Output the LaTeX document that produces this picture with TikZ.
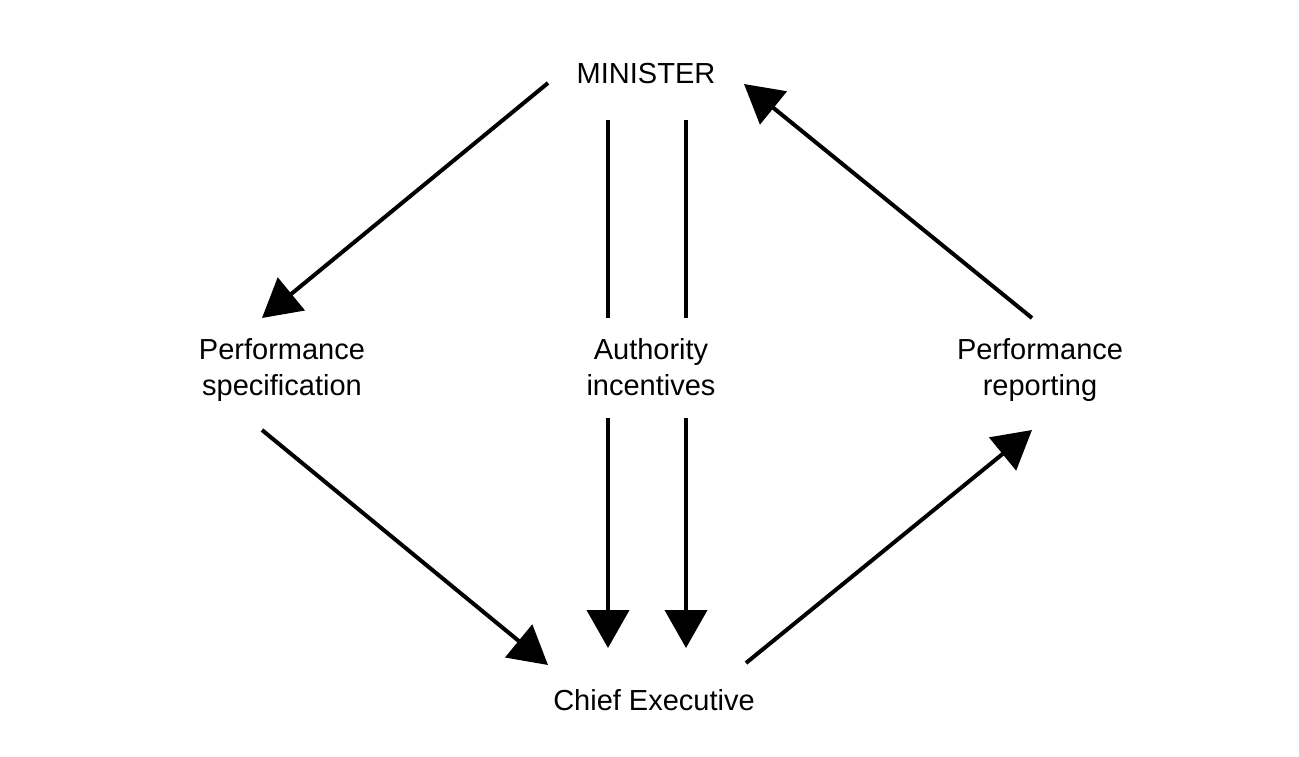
\documentclass[tikz,border=0pt]{standalone}
\usepackage{fontspec}
\setmainfont{Liberation Sans}
\usetikzlibrary{arrows.meta,calc}
\begin{document}
\begin{tikzpicture}[x=1pt,y=-1pt,
  lbl/.style={align=center,font=\fontsize{29}{36}\selectfont,inner sep=0pt},
  conn/.style={line width=4pt},
  arr/.style={conn,-{Triangle[length=38pt,width=42pt]}}]
\useasboundingbox (0,0) rectangle (1299,756);
\node[lbl] (min) at (646,74) {MINISTER};
\node[lbl] (spec) at (282,370) {Performance\\specification};
\node[lbl] (auth) at (651,367) {Authority\\incentives};
\node[lbl] (rep) at (1040,370) {Performance\\reporting};
\node[lbl] (ce) at (654,700) {Chief Executive};
% endpoints relative to nodes
\coordinate (m1) at ($(min)+(-98,9)$);
\coordinate (m2) at ($(min)+(-38,46)$);
\coordinate (m3) at ($(min)+(40,46)$);
\coordinate (m4) at ($(min)+(98,10)$);
\coordinate (s1) at ($(spec)+(-20,-52)$);
\coordinate (s2) at ($(spec)+(-20,60)$);
\coordinate (a1) at ($(auth)+(-43,-49)$);
\coordinate (a2) at ($(auth)+(35,-49)$);
\coordinate (a3) at ($(auth)+(-43,51)$);
\coordinate (a4) at ($(auth)+(35,51)$);
\coordinate (r1) at ($(rep)+(-8,-52)$);
\coordinate (r2) at ($(rep)+(-8,60)$);
\coordinate (c1) at ($(ce)+(-106,-35)$);
\coordinate (c2) at ($(ce)+(-46,-52)$);
\coordinate (c3) at ($(ce)+(32,-52)$);
\coordinate (c4) at ($(ce)+(92,-37)$);
\draw[arr] (m1) -- (s1);
\draw[conn] (m2) -- (a1);
\draw[conn] (m3) -- (a2);
\draw[arr] (a3) -- (c2);
\draw[arr] (a4) -- (c3);
\draw[arr] (s2) -- (c1);
\draw[arr] (c4) -- (r2);
\draw[arr] (r1) -- (m4);
\end{tikzpicture}
\end{document}
